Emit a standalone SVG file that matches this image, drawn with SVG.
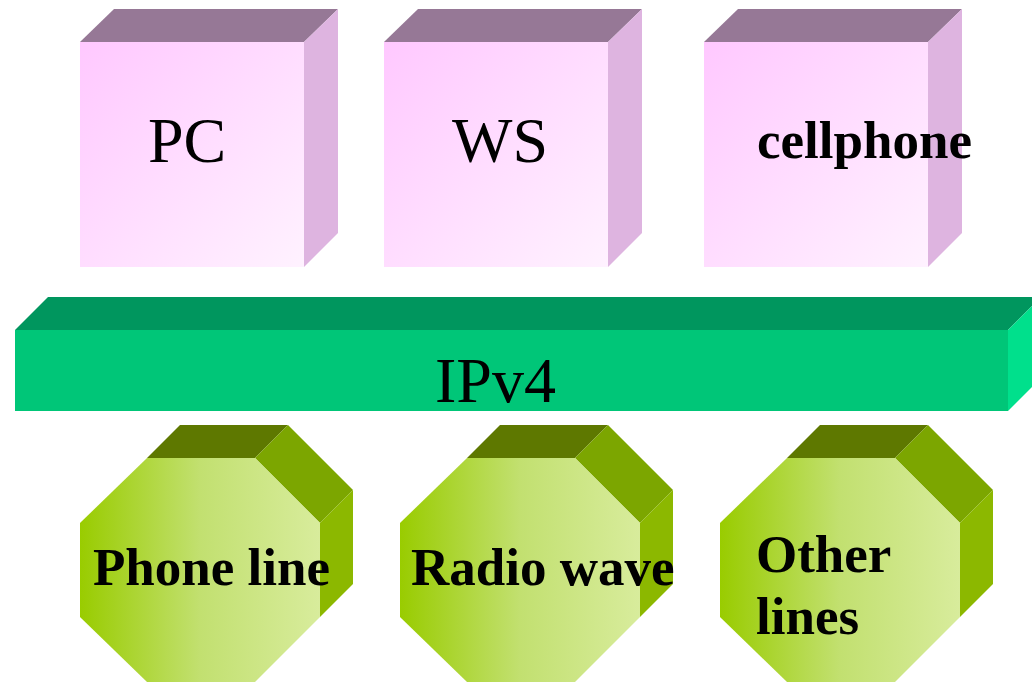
<svg xmlns="http://www.w3.org/2000/svg" width="1032" height="682" viewBox="0 0 1032 682">
  <defs>
    <linearGradient id="cubeFront" x1="0" y1="0" x2="1" y2="1">
      <stop offset="0" stop-color="#ffc8ff"/>
      <stop offset="1" stop-color="#fff2ff"/>
    </linearGradient>
    <linearGradient id="octFront" x1="0" y1="0" x2="1" y2="0">
      <stop offset="0" stop-color="#99cc00"/>
      <stop offset="0.5" stop-color="#c2e070"/>
      <stop offset="1" stop-color="#d8ec9c"/>
    </linearGradient>
    <style>
      .cube-top { fill: #967896; }
      .cube-side { fill: #deb4e0; }
      .cube-front { fill: url(#cubeFront); }
      .bar-top { fill: #00965e; }
      .bar-front { fill: #00c678; }
      .bar-side { fill: #00e08c; }
      .oct-top { fill: #5e7800; }
      .oct-corner { fill: #7ca600; }
      .oct-side { fill: #8cb800; }
      .oct-front { fill: url(#octFront); }
      .reg { font-family: "Liberation Serif", "Times New Roman", serif; font-size: 64px; fill: #000; }
      .bold { font-family: "Liberation Serif", "Times New Roman", serif; font-size: 53px; font-weight: bold; fill: #000; }
    </style>
    <!-- cube at origin: front face 224x225, depth offset (34,-33) -->
    <g id="cube">
      <polygon class="cube-top" points="0,33 34,0 258,0 224,33"/>
      <polygon class="cube-side" points="224,33 258,0 258,224 224,258"/>
      <rect class="cube-front" x="0" y="33" width="224" height="225"/>
    </g>
    <!-- octagon at origin: front face 240x224, depth offset (33,-33) -->
    <g id="octagon">
      <polygon class="oct-top" points="67,33 100,0 208,0 175,33"/>
      <polygon class="oct-corner" points="175,33 208,0 273,65 240,98"/>
      <polygon class="oct-side" points="240,98 273,65 273,159 240,192"/>
      <polygon class="oct-front" points="67,33 175,33 240,98 240,192 175,257 67,257 0,192 0,98"/>
    </g>
  </defs>

  <g id="node-pc">
    <use href="#cube" x="80" y="9"/>
    <text class="reg" x="148" y="162">PC</text>
  </g>
  <g id="node-ws">
    <use href="#cube" x="384" y="9"/>
    <text class="reg" x="452" y="162">WS</text>
  </g>
  <g id="node-cellphone">
    <use href="#cube" x="704" y="9"/>
    <text class="bold" x="757" y="158">cellphone</text>
  </g>

  <g id="node-ipv4">
    <polygon class="bar-top" points="15,330 48,297 1032,297 1032,306 1008,330"/>
    <polygon class="bar-side" points="1008,330 1032,306 1032,387 1008,411"/>
    <rect class="bar-front" x="15" y="330" width="993" height="81"/>
    <text class="reg" x="435" y="402">IPv4</text>
  </g>

  <g id="node-phone-line">
    <use href="#octagon" x="80" y="425"/>
    <text class="bold" x="93" y="585">Phone line</text>
  </g>
  <g id="node-radio-wave">
    <use href="#octagon" x="400" y="425"/>
    <text class="bold" x="411" y="585">Radio wave</text>
  </g>
  <g id="node-other-lines">
    <use href="#octagon" x="720" y="425"/>
    <text class="bold" x="756" y="572">Other</text>
    <text class="bold" x="756" y="634">lines</text>
  </g>

  <g id="connectors"/>
</svg>
